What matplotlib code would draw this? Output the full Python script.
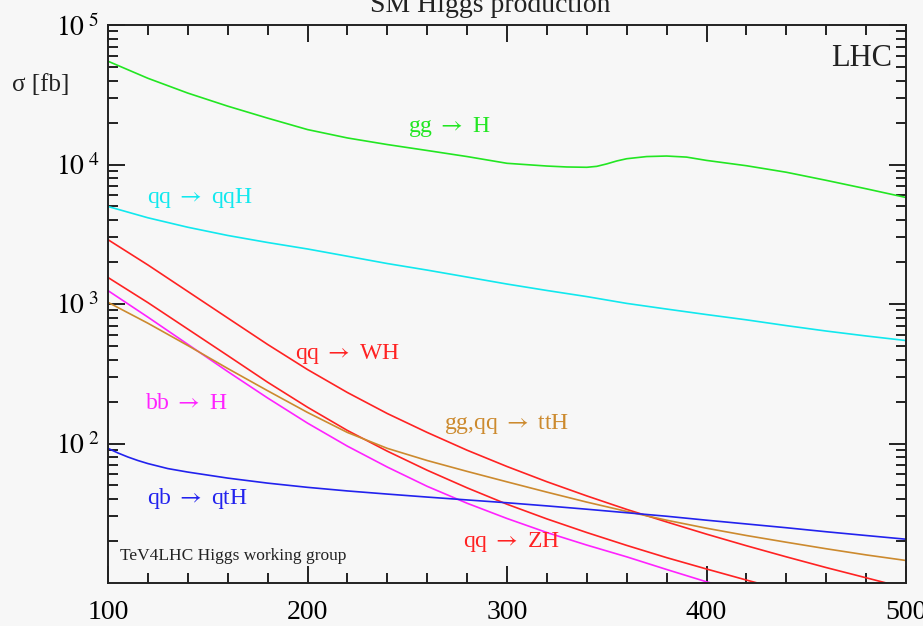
import matplotlib
matplotlib.use("Agg")
import matplotlib.pyplot as plt
from matplotlib.ticker import FixedLocator, LogLocator, MultipleLocator, NullFormatter

plt.rcParams['font.family'] = ['Liberation Serif', 'DejaVu Serif']
plt.rcParams['mathtext.fontset'] = 'stix'

# Higgs mass grid [GeV]
mass = [100, 120, 140, 160, 180, 200, 220, 240, 260, 280, 300,
        320, 340, 360, 380, 400, 420, 440, 460, 480, 500]

# gg -> H needs a finer grid around the tt threshold
mass_gg = [100, 120, 140, 160, 180, 200, 220, 240, 260, 280, 300, 320, 330,
           340, 345, 350, 355, 360, 370, 380, 390, 400, 420, 440, 460, 480, 500]
sig_gg = [55000, 41500, 32500, 26200, 21500, 17800, 15500, 13900, 12600, 11400,
          10200, 9750, 9600, 9550, 9700, 10100, 10600, 11000, 11400, 11500,
          11300, 10700, 9800, 8800, 7700, 6700, 5800]

sig_qqH = [5000, 4150, 3550, 3100, 2760, 2480, 2200, 1950, 1750, 1560, 1390,
           1250, 1130, 1010, 920, 840, 770, 700, 640, 590, 547]

sig_WH = [2891, 1905, 1230, 794, 513, 339, 232, 164, 120, 89.5, 68.4,
          53.2, 42.1, 33.7, 27.4, 22.4, 18.5, 15.4, 12.9, 10.9, 9.2]

mass_ZH = [100, 120, 140, 160, 180, 200, 220, 240, 260, 280, 300,
           320, 340, 360, 380, 400, 420, 440]
sig_ZH = [1549, 1023, 661, 427, 275, 182, 124, 88.1, 64.3, 48.1, 36.7,
          28.8, 23.0, 18.6, 15.2, 12.6, 10.5, 8.8]

mass_bb = [100, 120, 140, 160, 180, 200, 220, 240, 260, 280, 300,
           320, 340, 360, 380, 400, 420]
sig_bb = [1247, 805, 514, 328, 212, 140, 95.7, 67.8, 49.3, 37.3, 29.0,
          23.0, 18.7, 15.4, 12.5, 10.2, 8.5]

sig_ttH = [1028, 728, 504, 345, 239, 167, 120, 92.3, 75.5, 63.1, 53.1,
           44.8, 38.0, 32.6, 28.2, 24.7, 21.9, 19.6, 17.6, 15.9, 14.5]

mass_qt = [100, 105, 110, 115, 120, 130, 140, 160, 180, 200, 220, 240, 260,
           280, 300, 320, 340, 360, 380, 400, 420, 440, 460, 480, 500]
sig_qtH = [92.3, 85.5, 80.0, 75.5, 71.8, 66.1, 62.4, 56.5, 52.0, 48.5, 45.7,
           43.4, 41.3, 39.4, 37.6, 35.7, 33.8, 31.9, 30.1, 28.2, 26.5, 24.9,
           23.3, 21.9, 20.6]

bg = '#f7f7f7'
c_gg, c_qqH, c_red, c_bb, c_tt, c_qt = '#22e622', '#11e8ee', '#ff2222', '#ff22ff', '#cc8a2e', '#2222ee'
ink = '#222222'

fig = plt.figure(figsize=(9.23, 6.26), dpi=100, facecolor=bg)
ax = fig.add_axes([108/923, 1 - 583/626, 798/923, 558/626])
ax.set_facecolor(bg)

lw = 1.2
ax.plot(mass_gg, sig_gg, color=c_gg, lw=lw)
ax.plot(mass, sig_qqH, color=c_qqH, lw=lw)
ax.plot(mass, sig_WH, color=c_red, lw=lw)
ax.plot(mass_ZH, sig_ZH, color=c_red, lw=lw)
ax.plot(mass_bb, sig_bb, color=c_bb, lw=lw)
ax.plot(mass, sig_ttH, color=c_tt, lw=lw)
ax.plot(mass_qt, sig_qtH, color=c_qt, lw=lw)

ax.set_yscale('log')
ax.set_xlim(100, 500)
ax.set_ylim(10, 1e5)

ax.xaxis.set_major_locator(MultipleLocator(100))
ax.xaxis.set_minor_locator(MultipleLocator(20))
ax.yaxis.set_major_locator(FixedLocator([1e2, 1e3, 1e4, 1e5]))
ax.yaxis.set_minor_locator(LogLocator(base=10, subs=range(2, 10)))
ax.yaxis.set_minor_formatter(NullFormatter())
ax.set_yticklabels([r'$10^{\ 2}$', r'$10^{\ 3}$', r'$10^{\ 4}$', r'$10^{\ 5}$'])

ax.tick_params(which='both', direction='in', top=True, right=True, width=1.4, color=ink)
ax.tick_params(which='major', length=12, labelsize=20)
ax.tick_params(which='minor', length=7)
ax.tick_params(axis='x', which='major', pad=12)
ax.tick_params(axis='y', which='major', pad=6)
for s in ax.spines.values():
    s.set_linewidth(1.4)
    s.set_color(ink)

fs = 17
arr = r' $\rightarrow$ '
ax.text(271, 18600, 'gg' + arr + 'H', color=c_gg, fontsize=fs, ha='center', va='center')
ax.text(146, 5780, 'qq' + arr + 'qqH', color=c_qqH, fontsize=fs, ha='center', va='center')
ax.text(220, 435, 'qq' + arr + 'WH', color=c_red, fontsize=fs, ha='center', va='center')
ax.text(139, 194, 'bb' + arr + 'H', color=c_bb, fontsize=fs, ha='center', va='center')
ax.text(300, 139, 'gg,qq' + arr + 'ttH', color=c_tt, fontsize=fs, ha='center', va='center')
ax.text(145, 40.5, 'qb' + arr + 'qtH', color=c_qt, fontsize=fs, ha='center', va='center')
ax.text(302, 19.6, 'qq' + arr + 'ZH', color=c_red, fontsize=fs, ha='center', va='center')
ax.text(106, 15.6, 'TeV4LHC Higgs working group', color=ink, fontsize=12.5, ha='left', va='center')
ax.text(493, 58000, 'LHC', color=ink, fontsize=22, ha='right', va='center')

fig.text(41/923, 1 - 85/626, 'σ [fb]', fontsize=18, ha='center', va='center', color=ink)
fig.text(490/923, 1 - 12/626, 'SM Higgs production', fontsize=20, ha='center', va='baseline', color=ink)

fig.savefig('out.png', dpi=100, facecolor=bg)
